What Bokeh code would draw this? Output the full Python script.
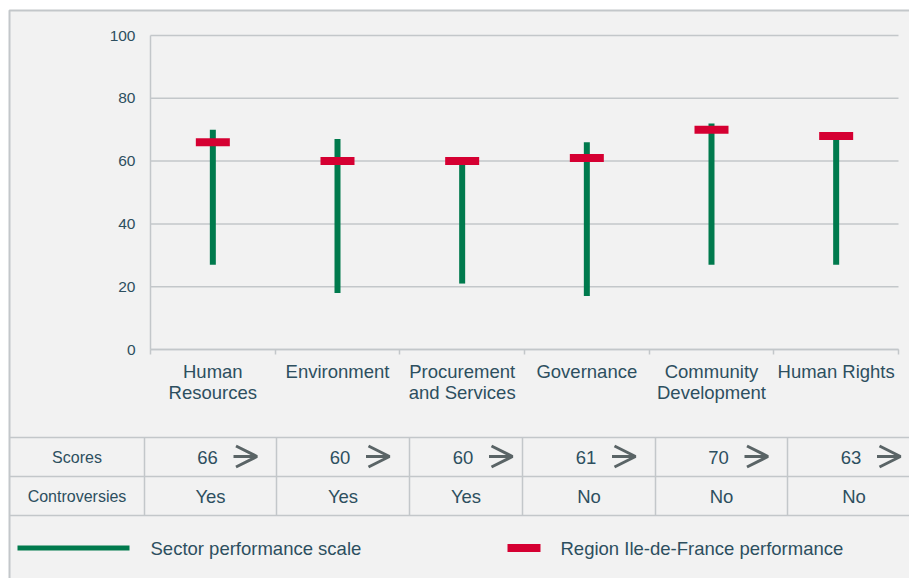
from bokeh.plotting import figure
from bokeh.models import (Range1d, FixedTicker, LinearAxis, ColumnDataSource,
                          Arrow, OpenHead)
from bokeh.embed import file_html
from bokeh.resources import INLINE
from bokeh.core.properties import value

# ---------------- data ----------------
categories = ["Human Resources", "Environment", "Procurement and Services",
              "Governance", "Community Development", "Human Rights"]
category_labels = ["Human\nResources", "Environment", "Procurement\nand Services",
                   "Governance", "Community\nDevelopment", "Human Rights"]
sector_low = [27, 18, 21, 17, 27, 27]
sector_high = [70, 67, 60, 66, 72, 68]
region_perf = [66, 60, 60, 61, 70, 68]
scores = [66, 60, 60, 61, 70, 63]
controversies = ["Yes", "Yes", "Yes", "No", "No", "No"]
y_ticks = [0, 20, 40, 60, 80, 100]
row_labels = ["Scores", "Controversies"]
legend_labels = ["Sector performance scale", "Region Ile-de-France performance"]

# ---------------- style ----------------
FONT = "Liberation Sans"
TEXT = "#2d4f5f"
LINE = "#c3c7ca"
BG = "#f2f2f2"
GREEN = "#007a4d"
RED = "#d50032"
ARROW = "#5a6466"

# ---------------- page layout (pixels) ----------------
W, H = 909, 578
FRAME_L, FRAME_R, FRAME_T, FRAME_B = 150, 898, 35, 349

n = len(categories)
idx = list(range(n))
y_lo, y_hi = y_ticks[0], y_ticks[-1]

# chart ranges chosen so that the category band [-0.5, n-0.5] and the value band [0, 100]
# fall on the plotting area inside the full-page canvas
ux = (FRAME_R - FRAME_L) / n
uy = (FRAME_B - FRAME_T) / (y_hi - y_lo)
x_range = Range1d(-0.5 - FRAME_L / ux, n - 0.5 + (W - FRAME_R) / ux)
y_range = Range1d(y_lo - (H - FRAME_B) / uy, y_hi + FRAME_T / uy)

p = figure(width=W, height=H, x_range=x_range, y_range=y_range,
           x_axis_type=None, y_axis_type=None,
           output_backend="svg", toolbar_location=None, min_border=0,
           background_fill_color="white", border_fill_color="white",
           outline_line_color=None)
p.extra_x_ranges = {"px": Range1d(0, W)}
p.extra_y_ranges = {"px": Range1d(H, 0)}
PX = dict(x_range_name="px", y_range_name="px")

# panel background with its border
p.quad(left=[9], right=[W + 5], top=[10], bottom=[H + 5], fill_color=BG,
       line_color=LINE, line_width=2, **PX)

# grid lines (value gridlines across the category band)
p.segment(x0=[-0.5] * len(y_ticks), y0=y_ticks, x1=[n - 0.5] * len(y_ticks), y1=y_ticks,
          line_color=LINE, line_width=1.5)

yaxis = LinearAxis(ticker=FixedTicker(ticks=y_ticks), fixed_location=-0.5, bounds=(y_lo, y_hi),
                   axis_line_color=LINE, axis_line_width=1.5,
                   major_tick_out=0, major_tick_in=0, minor_tick_line_color=None,
                   major_label_standoff=15,
                   major_label_text_font=FONT, major_label_text_font_size="15.5px",
                   major_label_text_color=TEXT)
p.add_layout(yaxis, "left")

xaxis = LinearAxis(ticker=FixedTicker(ticks=idx, minor_ticks=[i - 0.5 for i in range(n + 1)]),
                   fixed_location=y_lo, bounds=(-0.5, n - 0.5),
                   major_label_overrides={i: lab for i, lab in zip(idx, category_labels)},
                   axis_line_color=LINE, axis_line_width=1.5,
                   major_tick_line_color=None, major_tick_out=0, major_tick_in=0,
                   minor_tick_out=5, minor_tick_in=0, minor_tick_line_color=LINE,
                   minor_tick_line_width=1.5,
                   major_label_standoff=6,
                   major_label_text_font=FONT, major_label_text_font_size="18.5px",
                   major_label_text_color=TEXT, major_label_text_line_height=1.0,
                   major_label_text_align="center")
p.add_layout(xaxis, "below")

# data marks
p.segment(x0=idx, y0=sector_low, x1=idx, y1=sector_high,
          line_color=GREEN, line_width=6, line_cap="butt")
p.rect(x=idx, y=region_perf, width=34, height=8, width_units="screen", height_units="screen",
       fill_color=RED, line_color=None)

# ---------------- table ----------------
col_edges = [144, 276, 409, 522, 655, 787, 920]
row_lines = [437, 476, 515]
row_mid = [456.5, 495.5]
label_x = 76.5

p.segment(x0=[9] * len(row_lines), y0=row_lines, x1=[W] * len(row_lines), y1=row_lines,
          line_color=LINE, line_width=1.5, **PX)
p.segment(x0=col_edges[:-1], y0=[row_lines[0]] * n, x1=col_edges[:-1], y1=[row_lines[-1]] * n,
          line_color=LINE, line_width=1.5, **PX)

centers = [(a + b) / 2 for a, b in zip(col_edges[:-1], col_edges[1:])]
num_x = [c - 3 for c in centers]
arrow_c = [x + 38 for x in num_x]

p.text(x=[label_x] * 2, y=row_mid, text=row_labels, text_font=value(FONT),
       text_font_size="16px", text_color=TEXT, text_align="center", text_baseline="middle", **PX)
p.text(x=num_x, y=[row_mid[0]] * n, text=[str(s) for s in scores], text_font=value(FONT),
       text_font_size="18.5px", text_color=TEXT, text_align="center", text_baseline="middle", **PX)
p.text(x=centers, y=[row_mid[1]] * n, text=controversies, text_font=value(FONT),
       text_font_size="18.5px", text_color=TEXT, text_align="center", text_baseline="middle", **PX)

asrc = ColumnDataSource(dict(xs=[c - 12 for c in arrow_c], xe=[c + 11.5 for c in arrow_c],
                             y=[row_mid[0] - 0.5] * n))
p.add_layout(Arrow(end=OpenHead(size=21, line_width=3, line_color=ARROW),
                   x_start="xs", y_start="y", x_end="xe", y_end="y", source=asrc,
                   line_width=3, line_color=ARROW, **PX))

# ---------------- legend ----------------
LEG_Y = 547.5
p.segment(x0=[17], y0=[LEG_Y], x1=[129], y1=[LEG_Y], line_color=GREEN, line_width=5,
          line_cap="butt", **PX)
p.rect(x=[523.5], y=[LEG_Y], width=33, height=8, fill_color=RED, line_color=None, **PX)
p.text(x=[150, 560], y=[LEG_Y + 0.5] * 2, text=legend_labels, text_font=value(FONT),
       text_font_size="18.5px", text_color=TEXT, text_align="left", text_baseline="middle", **PX)

open("out.html", "w").write(file_html(p, INLINE))
